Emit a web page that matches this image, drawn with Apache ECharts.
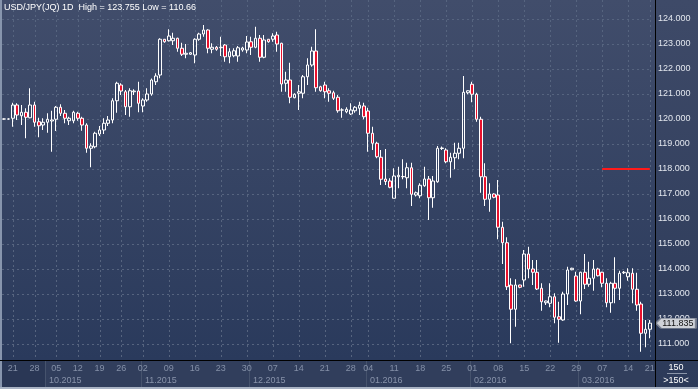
<!DOCTYPE html>
<html><head><meta charset="utf-8">
<script src="https://cdn.jsdelivr.net/npm/echarts@6.0.0/dist/echarts.min.js"></script>
<style>html,body{margin:0;padding:0;background:#2a3755}#c{width:698px;height:389px}</style>
</head><body><div id="c"></div>
<script>
// ---------- data ----------
const dates = [
'2015-09-17','2015-09-18','2015-09-21','2015-09-22','2015-09-23','2015-09-24','2015-09-25','2015-09-28','2015-09-29','2015-09-30',
'2015-10-01','2015-10-02','2015-10-05','2015-10-06','2015-10-07','2015-10-08','2015-10-09','2015-10-12','2015-10-13','2015-10-14',
'2015-10-15','2015-10-16','2015-10-19','2015-10-20','2015-10-21','2015-10-22','2015-10-23','2015-10-26','2015-10-27','2015-10-28',
'2015-10-29','2015-10-30','2015-11-02','2015-11-03','2015-11-04','2015-11-05','2015-11-06','2015-11-08','2015-11-09','2015-11-10',
'2015-11-11','2015-11-12','2015-11-13','2015-11-15','2015-11-16','2015-11-17','2015-11-18','2015-11-19','2015-11-20','2015-11-22',
'2015-11-23','2015-11-24','2015-11-25','2015-11-26','2015-11-27','2015-11-29','2015-11-30','2015-12-01','2015-12-02','2015-12-03',
'2015-12-04','2015-12-06','2015-12-07','2015-12-08','2015-12-09','2015-12-10','2015-12-11','2015-12-13','2015-12-14','2015-12-15',
'2015-12-16','2015-12-17','2015-12-18','2015-12-20','2015-12-21','2015-12-22','2015-12-23','2015-12-24','2015-12-25','2015-12-27',
'2015-12-28','2015-12-29','2015-12-30','2015-12-31','2016-01-04','2016-01-05','2016-01-06','2016-01-07','2016-01-08','2016-01-10',
'2016-01-11','2016-01-12','2016-01-13','2016-01-14','2016-01-15','2016-01-17','2016-01-18','2016-01-19','2016-01-20','2016-01-21',
'2016-01-22','2016-01-24','2016-01-25','2016-01-26','2016-01-27','2016-01-28','2016-01-29','2016-01-31','2016-02-01','2016-02-02',
'2016-02-03','2016-02-04','2016-02-05','2016-02-07','2016-02-08','2016-02-09','2016-02-10','2016-02-11','2016-02-12','2016-02-14',
'2016-02-15','2016-02-16','2016-02-17','2016-02-18','2016-02-19','2016-02-21','2016-02-22','2016-02-23','2016-02-24','2016-02-25',
'2016-02-26','2016-02-28','2016-02-29','2016-03-01','2016-03-02','2016-03-03','2016-03-04','2016-03-06','2016-03-07','2016-03-08',
'2016-03-09','2016-03-10','2016-03-11','2016-03-13','2016-03-14','2016-03-15','2016-03-16','2016-03-17','2016-03-18','2016-03-21'];

const opens = [
120.00,120.00,120.03,120.56,120.13,120.27,120.05,120.56,119.89,119.76,
119.87,119.92,119.99,120.47,120.23,119.93,119.93,120.23,120.03,119.76,
118.83,118.89,119.40,119.56,119.83,119.96,120.73,121.36,121.09,120.49,
121.09,121.12,120.52,120.76,121.00,121.49,121.76,123.19,123.13,123.13,
123.23,122.83,122.59,122.59,122.56,123.19,123.40,123.56,122.79,122.87,
122.87,122.96,122.49,122.53,122.52,122.76,122.76,123.09,122.87,123.23,
122.47,123.19,123.19,123.36,123.03,121.43,121.56,120.85,121.03,121.03,
121.69,122.16,122.72,121.29,121.36,121.13,121.05,120.87,120.36,120.29,
120.20,120.33,120.43,120.52,120.32,119.43,119.03,118.47,117.60,117.52,
116.83,117.69,117.70,117.65,118.05,116.96,116.93,117.33,117.60,116.85,
117.49,118.82,118.76,118.29,118.45,118.63,118.83,121.05,121.39,120.99,
119.99,117.69,116.79,117.00,116.96,115.67,115.05,113.36,112.39,113.36,
113.56,114.60,114.00,113.87,113.23,112.65,112.63,112.89,112.09,111.96,
113.00,113.97,113.72,112.72,113.87,113.39,113.63,114.00,113.87,113.43,
112.65,113.43,113.23,113.85,113.69,113.83,113.19,112.60,111.43,111.59];

const closes = [
120.00,120.00,120.56,120.16,120.27,120.07,120.56,119.87,119.73,119.87,
119.99,119.96,120.47,120.23,120.03,120.03,120.27,120.03,119.76,118.83,
118.92,119.43,119.56,119.83,119.96,120.73,121.43,121.12,120.49,121.13,
121.12,120.63,120.76,121.00,121.56,121.72,123.19,123.09,123.32,123.23,
122.83,122.59,122.63,122.65,123.19,123.40,123.56,122.83,122.87,122.79,
122.85,122.49,122.69,122.73,122.85,122.84,123.08,122.87,123.23,122.47,
123.16,123.09,123.32,123.00,121.40,121.56,120.87,120.99,121.09,121.69,
122.16,122.72,121.25,121.13,121.09,121.03,120.83,120.33,120.36,120.39,
120.36,120.47,120.55,120.09,119.43,119.03,118.49,117.59,117.50,117.27,
117.72,117.75,117.69,118.05,116.99,117.05,117.35,117.60,116.85,117.52,
118.83,118.84,118.29,118.47,118.63,118.83,121.07,121.13,120.99,119.99,
117.69,116.79,117.00,116.87,115.67,115.05,113.29,112.39,113.36,113.27,
114.60,114.00,113.87,113.20,112.69,112.72,112.89,112.07,111.99,113.00,
113.96,114.03,112.72,113.87,113.39,113.63,114.00,113.73,113.43,112.65,
113.43,113.23,113.83,113.87,113.85,113.19,112.56,111.43,111.59,111.835];

const lows = [
119.98,119.98,119.69,119.96,119.76,119.23,120.03,119.69,119.27,119.56,
119.45,118.69,119.52,120.12,119.83,119.76,119.83,119.93,119.53,118.65,
118.07,118.83,119.32,119.40,119.72,119.83,120.25,120.96,120.16,120.09,
120.96,120.27,120.27,120.69,120.93,121.36,121.63,123.05,123.10,122.96,
122.69,122.52,122.43,122.57,122.23,123.13,123.29,122.63,122.63,122.73,
122.52,122.29,122.23,122.47,122.29,122.69,122.63,122.56,122.83,122.29,
122.43,123.05,123.09,122.69,121.09,121.09,120.63,120.83,120.36,120.83,
121.36,122.09,121.09,121.09,120.83,120.69,120.76,120.25,120.05,120.23,
120.16,120.25,120.16,119.99,118.69,118.76,118.43,117.36,117.36,117.23,
116.83,117.23,117.59,117.23,116.52,116.90,116.83,117.29,115.96,116.45,
117.45,118.76,118.23,117.65,117.99,118.39,118.43,120.99,120.67,119.89,
117.05,116.52,116.29,116.83,115.19,114.20,113.16,111.03,111.69,113.23,
113.29,113.63,113.36,113.16,112.33,112.56,112.47,111.83,111.05,111.93,
112.56,113.95,112.69,112.19,113.20,113.29,113.13,113.70,113.27,112.47,
112.25,112.63,112.76,113.80,113.53,112.63,112.33,110.69,110.87,111.23];

const highs = [
120.02,120.02,120.65,120.63,120.56,120.43,121.23,120.69,120.05,120.03,
120.23,120.33,120.52,120.59,120.36,120.09,120.33,120.29,120.09,119.83,
119.03,119.49,119.72,120.03,120.12,120.83,121.49,121.43,121.16,121.23,
121.19,121.49,120.83,121.23,121.62,121.83,123.23,123.20,123.59,123.45,
123.25,123.05,123.00,122.68,123.23,123.45,123.76,123.59,123.03,122.92,
123.29,123.00,122.83,122.83,122.92,122.89,123.32,123.29,123.69,123.36,
123.36,123.20,123.43,123.49,123.05,121.89,122.25,121.03,121.36,121.76,
122.43,122.89,123.59,121.33,121.49,121.23,121.13,120.96,120.43,120.47,
120.63,120.52,120.69,120.65,120.45,119.69,119.09,118.76,118.80,117.63,
118.03,118.09,118.39,118.25,118.25,117.10,117.43,118.09,117.72,117.72,
118.92,118.90,118.83,118.65,119.05,119.05,121.72,121.15,121.49,121.05,
120.09,118.23,117.43,117.03,117.56,115.89,115.27,113.63,113.59,113.37,
114.76,114.89,114.36,114.36,113.43,112.74,113.43,113.03,112.69,113.09,
114.09,114.05,113.89,113.89,114.60,114.29,114.36,114.05,113.89,113.63,
113.49,114.47,113.93,113.92,114.03,114.03,113.85,112.69,111.96,111.96];

const dayTicks = ['2015-09-21','2015-09-28','2015-10-05','2015-10-12','2015-10-19','2015-10-26','2015-11-02','2015-11-09','2015-11-16','2015-11-23','2015-11-30','2015-12-07','2015-12-14','2015-12-21','2015-12-28','2016-01-04','2016-01-11','2016-01-18','2016-01-25','2016-02-01','2016-02-08','2016-02-15','2016-02-22','2016-02-29','2016-03-07','2016-03-14','2016-03-21'];
const monthStarts = ['2015-10-01','2015-11-02','2015-12-01','2016-01-04','2016-02-01','2016-03-01'];
const monthLabels = ['10.2015','11.2015','12.2015','01.2016','02.2016','03.2016'];
const yTicks = [111,112,113,114,115,116,117,118,119,120,121,122,123,124];
const yMin = 110.36, yMax = 124.76;
const titleText = 'USD/JPY(JQ) 1D  High = 123.755 Low = 110.66';
const lastPrice = 111.835;
const levelValue = 118.0, levelFrom = '2016-03-07', levelTo = '2016-03-21';
const barsText = '150', barsText2 = '>150<';

// ---------- styles ----------
const FONT = '"Liberation Sans", Arial, sans-serif';
const GRIDLINE = '#56647f';
const UPFILL = 'rgba(0,0,0,0)', DOWNFILL = '#e8112d';

const candles = dates.map((d, i) => [opens[i], closes[i], lows[i], highs[i]]);
const dayTickSet = new Set(dayTicks);
const monthIdx = monthStarts.map(d => dates.indexOf(d));
const monthData = monthIdx.map((s, k) => [s, k < monthIdx.length - 1 ? monthIdx[k + 1] - 1 : dates.length - 1, k]);

const chart = echarts.init(document.getElementById('c'), null, {renderer: 'canvas'});

const option = {
  animation: false,
  backgroundColor: '#2a3755',
  title: {
    text: titleText, left: 4, top: 3, padding: 0,
    textStyle: {color: '#ffffff', fontSize: 9, fontWeight: 'normal', fontFamily: FONT}
  },
  graphic: {
    elements: [
      {type: 'rect', z: -10, silent: true, shape: {x: 0, y: 0, width: 655, height: 360},
        style: {fill: new echarts.graphic.LinearGradient(0, 0, 0, 1, [{offset: 0, color: '#414d6b'}, {offset: 1, color: '#2a3a5c'}])}},
      {type: 'rect', z: -10, silent: true, shape: {x: 655, y: 0, width: 43, height: 389},
        style: {fill: new echarts.graphic.LinearGradient(0, 0, 0, 1, [{offset: 0, color: '#3e4a68'}, {offset: 1, color: '#2c3a59'}])}},
      {type: 'rect', z: -10, silent: true, shape: {x: 0, y: 360, width: 655, height: 29}, style: {fill: '#2a3755'}},
      {type: 'rect', z: 50, silent: true, shape: {x: 0, y: 0, width: 2, height: 389}, style: {fill: '#8795ad'}},
      {type: 'rect', z: 50, silent: true, shape: {x: 0, y: 387, width: 698, height: 2}, style: {fill: '#a9b3c4'}},
      {type: 'line', z: 50, silent: true, shape: {x1: 655.5, y1: 0, x2: 655.5, y2: 387}, style: {stroke: '#000000', lineWidth: 1}},
      {type: 'line', z: 50, silent: true, shape: {x1: 0, y1: 360.5, x2: 698, y2: 360.5}, style: {stroke: '#000000', lineWidth: 1}},
      {type: 'line', z: 50, silent: true, shape: {x1: 667, y1: 373.5, x2: 687, y2: 373.5}, style: {stroke: '#8a95a9', lineWidth: 1}},
      {type: 'text', z: 50, silent: true, x: 676, y: 367.5, style: {text: barsText, fill: '#ffffff', font: '9px ' + FONT, align: 'center', verticalAlign: 'middle'}},
      {type: 'text', z: 50, silent: true, x: 676, y: 380.5, style: {text: barsText2, fill: '#ffffff', font: '9px ' + FONT, align: 'center', verticalAlign: 'middle'}}
    ]
  },
  grid: [
    {left: 2, right: 46, top: 0, height: 360},
    {left: 2, right: 46, top: 361, height: 26}
  ],
  xAxis: [
    {type: 'category', gridIndex: 0, data: dates, boundaryGap: true, z: 5,
      axisLine: {show: false}, axisTick: {show: false}, splitLine: {show: false},
      axisLabel: {
        interval: (idx, val) => dayTickSet.has(val), hideOverlap: false,
        formatter: v => v.slice(8), color: '#8490a8', fontSize: 9, fontFamily: FONT, margin: 4
      }},
    {type: 'value', gridIndex: 1, min: -0.5, max: dates.length - 0.5, show: false}
  ],
  yAxis: [
    {type: 'value', gridIndex: 0, position: 'right', offset: 3, min: yMin, max: yMax,
      axisLine: {show: false},
      axisTick: {show: false, customValues: yTicks},
      axisLabel: {customValues: yTicks, formatter: v => v.toFixed(3), color: '#e3e7ee', fontSize: 9, fontFamily: FONT, margin: 3},
      splitLine: {show: true, lineStyle: {color: GRIDLINE, type: [2, 3], width: 1}}},
    {type: 'value', gridIndex: 1, min: 0, max: 2, show: false}
  ],
  series: [
    {
      type: 'custom', name: 'weekGrid', xAxisIndex: 0, yAxisIndex: 0, z: 1, silent: true,
      data: dayTicks.map(d => [d, levelValue]),
      encode: {x: 0, y: 1},
      renderItem: (params, api) => {
        const cs = params.coordSys;
        const x = Math.round(api.coord([api.value(0), levelValue])[0]) + 0.5;
        return {type: 'line', shape: {x1: x, y1: cs.y, x2: x, y2: cs.y + cs.height},
          style: {stroke: GRIDLINE, lineWidth: 1, lineDash: [2, 3]}};
      }
    },
    {
      type: 'candlestick', name: 'USD/JPY', xAxisIndex: 0, yAxisIndex: 0, z: 3,
      data: candles, barWidth: 3,
      itemStyle: {color: UPFILL, color0: DOWNFILL, borderColor: '#ffffff', borderColor0: '#ffffff', borderWidth: 1},
      markLine: {
        silent: true, symbol: 'none', label: {show: false},
        lineStyle: {color: '#ff1a1a', width: 2, type: 'solid'},
        data: [[{coord: [levelFrom, levelValue]}, {coord: [levelTo, levelValue]}]]
      },
      markPoint: {
        silent: true,
        data: [{
          coord: [dates[dates.length - 1], lastPrice],
          symbol: 'path://M0,5L5,0L40,0L40,10L5,10Z', symbolSize: [40, 10], symbolOffset: [26, 0],
          itemStyle: {color: '#cfd2d8', borderColor: '#7d8494', borderWidth: 1},
          label: {show: true, position: 'inside', offset: [2, 0], formatter: lastPrice.toFixed(3), color: '#111111', fontSize: 9, fontFamily: FONT}
        }]
      }
    },
    {
      type: 'custom', name: 'months', xAxisIndex: 1, yAxisIndex: 1, silent: true, z: -1,
      data: monthData,
      renderItem: (params, api) => {
        const cs = params.coordSys;
        const s = api.value(0), e = api.value(1), k = api.value(2);
        const pTop = api.coord([s - 0.5, 2]);
        const pBot = api.coord([e + 0.5, 0]);
        const x0 = Math.round(pTop[0]);
        let x1 = Math.round(pBot[0]);
        if (k === monthLabels.length - 1) x1 = cs.x + cs.width + 3;
        const mid = api.coord([s, 0.5])[1];
        return {type: 'group', children: [
          {type: 'rect', shape: {x: x0, y: pTop[1], width: x1 - x0, height: pBot[1] - pTop[1]}, style: {fill: '#313e5c'}},
          {type: 'line', shape: {x1: x0 + 0.5, y1: pTop[1], x2: x0 + 0.5, y2: pBot[1]}, style: {stroke: '#46536d', lineWidth: 1}},
          {type: 'text', x: x0 + 4, y: mid, style: {text: monthLabels[k], fill: '#8893aa', font: '9px ' + FONT, verticalAlign: 'middle'}}
        ]};
      }
    }
  ]
};
chart.setOption(option);
</script>
</body></html>
